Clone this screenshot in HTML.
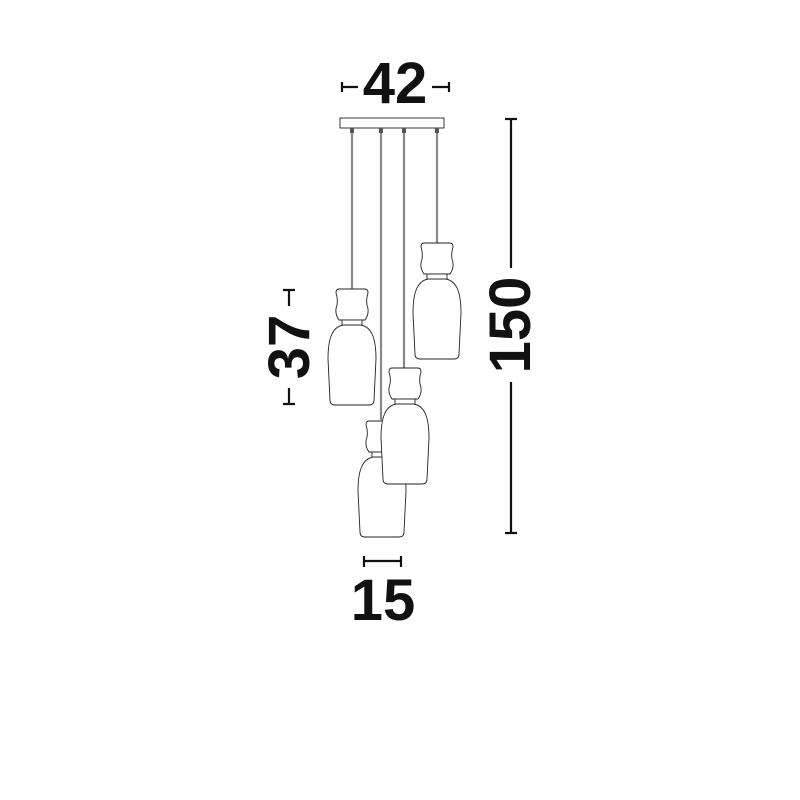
<!DOCTYPE html>
<html><head><style>html,body{margin:0;background:#fff}svg{display:block}</style></head><body>
<svg width="800" height="800" viewBox="0 0 800 800" xmlns="http://www.w3.org/2000/svg">
<defs>
<g id="lamp">
<path d="M-9,36 C-19,38 -24,48 -24,70 L-22,111 Q-22,116 -17,116 L17,116 Q22,116 22,111 L24,70 C24,48 19,38 9,36 Z" fill="#fff" stroke="#222" stroke-width="0.9"/>
<path d="M-13,0 L13,0 Q16,0 16,4 Q14,10 15,16 Q18,24 13,31 L-13,31 Q-18,24 -15,16 Q-14,10 -16,4 Q-16,0 -13,0 Z" fill="#fff" stroke="#222" stroke-width="0.9"/>
<rect x="-10" y="31" width="20" height="5" fill="#fff" stroke="#222" stroke-width="0.9"/>
</g>
</defs>
<g stroke="#888" stroke-width="2.2">
<line x1="352" y1="129" x2="352" y2="289"/>
<line x1="381" y1="129" x2="381" y2="420"/>
<line x1="404" y1="129" x2="404" y2="368"/>
<line x1="437" y1="129" x2="437" y2="243"/>
</g>
<rect x="340" y="118" width="104" height="10" fill="#fff" stroke="#222" stroke-width="0.9"/>
<g fill="#555"><rect x="350" y="128" width="4" height="5"/><rect x="379" y="128" width="4" height="5"/><rect x="402" y="128" width="4" height="5"/><rect x="435" y="128" width="4" height="5"/></g>
<use href="#lamp" x="437" y="243"/>
<use href="#lamp" x="352" y="289"/>
<use href="#lamp" x="382" y="421"/>
<use href="#lamp" x="405" y="368"/>
<g stroke="#111" stroke-width="2.2" fill="none">
<path d="M342,82 V92 M342,87 H358 M432,87 H449 M449,82 V92"/>
<path d="M505,119 H517 M511,119 V268 M511,382 V533 M505,533 H517"/>
<path d="M283,290 H295 M289,290 V306 M289,388 V404 M283,404 H295"/>
<path d="M364,556 V567 M364,561 H401 M401,556 V567"/>
</g>
<g font-family="Liberation Sans, sans-serif" font-weight="bold" fill="#111" font-size="58">
<text x="395" y="103" text-anchor="middle">42</text>
<text x="383" y="620" text-anchor="middle">15</text>
<text transform="translate(530,325) rotate(-90)" text-anchor="middle">150</text>
<text transform="translate(309,347) rotate(-90)" text-anchor="middle">37</text>
</g>
</svg>
</body></html>
